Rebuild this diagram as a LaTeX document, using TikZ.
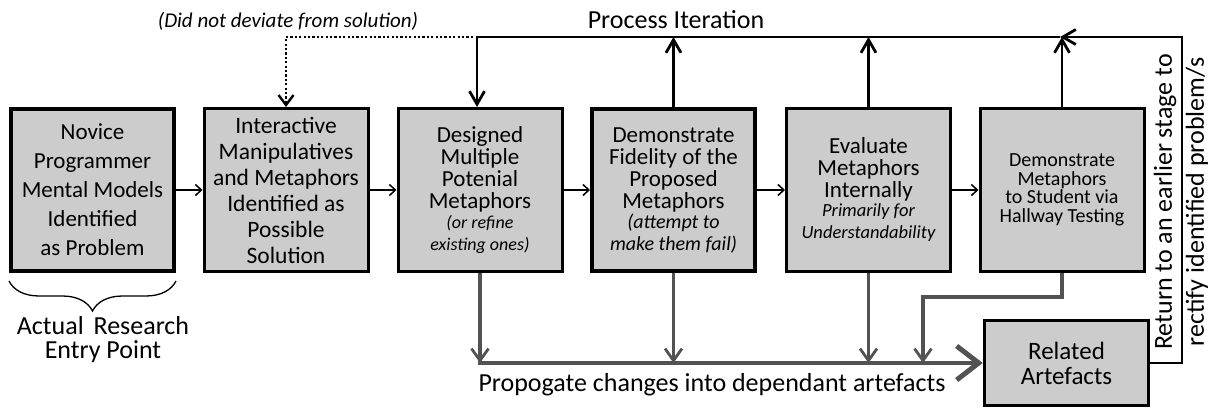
\documentclass[tikz,border=0pt]{standalone}
\usepackage{fontspec}
\setmainfont{Carlito}
\usetikzlibrary{arrows.meta,decorations.pathreplacing}
\definecolor{boxfill}{HTML}{CCCCCC}
\definecolor{prop}{HTML}{525252}
\newcommand{\smit}[2]{{\fontsize{#1}{#1}\selectfont\itshape #2}}
\begin{document}
\begin{tikzpicture}[x=1pt,y=-1pt,
  box/.style={draw=black,fill=boxfill,line width=3pt,minimum width=164pt,minimum height=163pt,inner sep=2pt,align=center},
  thickbox/.style={box,line width=4pt,minimum width=163pt,minimum height=162pt},
  flow/.style={line width=1.5pt,-{Straight Barb[length=6pt,width=11pt,line width=1.5pt]}},
  iter/.style={line width=2.8pt,-{Straight Barb[length=13pt,width=15pt,line width=2.8pt]}},
  dotline/.style={line width=2.4pt,dash pattern=on 2.2pt off 2.2pt,-{Straight Barb[length=10pt,width=15pt,line width=2.4pt,sep=0pt]}},
  propline/.style={draw=prop,line width=3.6pt},
  proparrow/.style={propline,-{Straight Barb[length=12pt,width=17pt,line width=2.8pt]}},
  propbig/.style={propline,-{Straight Barb[length=22pt,width=34pt,line width=5pt]}},
  lab/.style={align=center,inner sep=0pt},
]
\useasboundingbox (0,0) rectangle (1219,409);

\node[thickbox,font=\fontsize{23}{29}\selectfont] (b1) at (92.5,190)
  {Novice\\Programmer\\Mental Models\\Identified\\as Problem};
\node[box,font=\fontsize{23.5}{26}\selectfont] (b2) at (286,190)
  {Interactive\\Manipulatives\\and Metaphors\\Identified as\\Possible\\Solution};
\node[box,font=\fontsize{23}{22}\selectfont] (b3) at (480,190)
  {Designed\\Multiple\\Potenial\\Metaphors\\[-2pt]\smit{18}{(or refine}\\\smit{18}{existing ones)}};
\node[thickbox,font=\fontsize{23}{22}\selectfont] (b4) at (673.5,190)
  {Demonstrate\\Fidelity of the\\Proposed\\Metaphors\\[-2pt]\smit{20}{(attempt to}\\\smit{20}{make them fail)}};
\node[box,font=\fontsize{23}{22}\selectfont] (b5) at (868.5,190)
  {Evaluate\\Metaphors\\Internally\\[-3pt]\smit{18.5}{Primarily for}\\\smit{18.5}{Understandability}};
\node[box,font=\fontsize{20}{18.5}\selectfont] (b6) at (1062,190)
  {Demonstrate\\Metaphors\\to Student via\\Hallway Testing};
\node[box,line width=3.5pt,minimum height=85pt,font=\fontsize{25}{25}\selectfont] (ra) at (1066.5,363)
  {Related\\Artefacts};

% labels
\node[lab,font=\fontsize{21}{21}\selectfont\itshape] (dnd) at (288,21) {(Did not deviate from solution)};
\node[lab,font=\fontsize{26}{26}\selectfont] (pit) at (676,20) {Process Iteration};
\node[lab,font=\fontsize{26}{26}\selectfont] (prp) at (712,385) {Propogate changes into dependant artefacts};
\node[lab,font=\fontsize{26}{24}\selectfont] (are) at (103,340) {Actual\hspace{4pt} Research\\Entry Point};
\node[lab,rotate=90,font=\fontsize{26}{32}\selectfont] (ret) at (1181,202)
  {Return to an earlier stage to\\rectify identified problem/s};

% coordinates
\coordinate (tl) at (477,37);
\coordinate (tr) at (1182,37);
\coordinate (rh) at (1060,37);
\coordinate (dt) at (286,37);
\coordinate (j) at (923,297);

% flow arrows
\draw[flow] (b1) -- (b2);
\draw[flow] (b2) -- (b3);
\draw[flow] (b3) -- (b4);
\draw[flow] (b4) -- (b5);
\draw[flow] (b5) -- (b6);

% process iteration loop
\draw[iter] (rh) -- (tl) -- (tl |- b3.north);
\draw[iter] (ra.east) -| (tr) -- (rh);
\draw[iter] (b4.north) -- (b4.north |- tl);
\draw[iter] (b5.north) -- (b5.north |- tl);
\draw[iter] (b6.north) -- (b6.north |- tl);
\draw[dotline] ([xshift=-4pt]tl) -- (dt) -- (dt |- b2.north);

% propagation
\draw[propbig] (b3.south) -- (b3.south |- ra.west) -- (ra.west);
\draw[proparrow] (b3.south) -- (b3.south |- ra.west);
\draw[proparrow] (b4.south) -- (b4.south |- ra.west);
\draw[proparrow] (b5.south) -- (b5.south |- ra.west);
\draw[proparrow] (b6.south) |- (j) -- (j |- ra.west);

% brace
\draw[line width=1.3pt,decorate,decoration={brace,amplitude=30pt}] (176,281) -- (9,281);
\end{tikzpicture}
\end{document}
